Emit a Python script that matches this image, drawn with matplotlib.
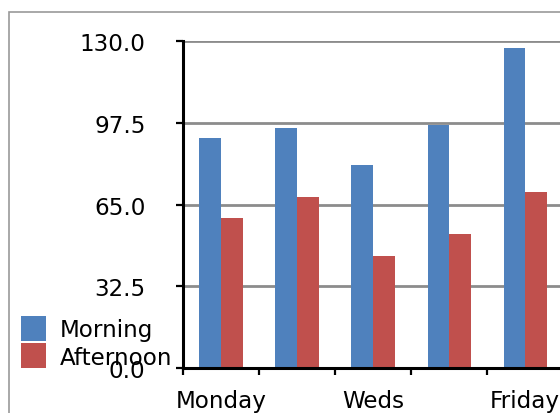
import matplotlib.pyplot as plt
import numpy as np
from matplotlib.patches import Rectangle

days = ['Monday', 'Tuesday', 'Weds', 'Thursday', 'Friday']
morning = [91.5, 95.5, 80.8, 96.7, 127.3]
afternoon = [59.7, 68.0, 44.6, 53.3, 70.0]
yticks = [0.0, 32.5, 65.0, 97.5, 130.0]

plt.rcParams['font.family'] = ['DejaVu Sans']
fs = 16.6
fig = plt.figure(figsize=[5.6, 4.14], dpi=100)
ax = fig.add_axes([0.3268, 0.1087, 0.679, 0.789])

# outer chart frame, running off the picture at right and bottom
fig.patches.append(Rectangle((9 / 560, -0.1), 1.2, 1 - 13 / 414 + 0.1, transform=fig.transFigure,
                             fill=False, edgecolor='#999999', lw=1.2, clip_on=False))

x = np.arange(len(days))
w = 0.285
ax.bar(x - w / 2, morning, w, color='#4F81BD', label='Morning', zorder=3)
ax.bar(x + w / 2, afternoon, w, color='#C0504D', label='Afternoon', zorder=3)

ax.set_xlim(-0.5, len(days) - 0.5)
ax.set_ylim(0, 130)
ax.set_yticks(yticks)
ax.set_yticklabels([f'{v:.1f}' for v in yticks], fontsize=fs)
ax.yaxis.grid(True, color='#8c8c8c', lw=2.0, zorder=1)
ax.tick_params(axis='y', length=5, width=1.6, pad=22)

ax.set_xticks(np.arange(len(days) + 1) - 0.5)
ax.set_xticklabels([])
ax.tick_params(axis='x', which='major', length=5, width=1.6)
ax.set_xticks(x, minor=True)
ax.set_xticklabels([d if i % 2 == 0 else '' for i, d in enumerate(days)], minor=True, fontsize=fs)
ax.tick_params(axis='x', which='minor', length=0, pad=15)

for s in ['top', 'right']:
    ax.spines[s].set_visible(False)
ax.spines['left'].set_linewidth(2.2)
ax.spines['bottom'].set_linewidth(2.2)
ax.spines['left'].set_zorder(4)
ax.spines['bottom'].set_zorder(4)

fig.legend(loc='upper left', bbox_to_anchor=(21 / 560, 1 - 317 / 414), frameon=False,
           fontsize=fs, handlelength=1.1, handleheight=1.28, handletextpad=0.6,
           labelspacing=0.1, borderpad=0, borderaxespad=0)

fig.savefig('out.png', dpi=100)
